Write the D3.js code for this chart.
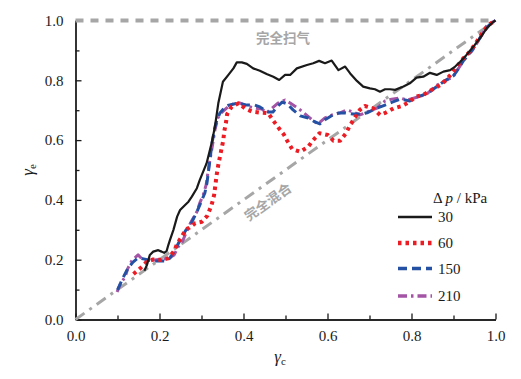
<!DOCTYPE html>
<html>
<head>
<meta charset="utf-8">
<script src="https://cdn.jsdelivr.net/npm/d3@7"></script>
<style>
  body { margin: 0; background: #fff; }
  .axis path, .axis line { stroke: #1a1a1a; stroke-width: 1.3; }
</style>
</head>
<body>
<div id="chart"></div>
<script>
// series: [gamma_c, gamma_e]
var dp30 = [[0.164,0.163],[0.170,0.182],[0.177,0.216],[0.185,0.227],[0.197,0.232],[0.205,0.227],[0.211,0.223],[0.217,0.229],[0.221,0.249],[0.225,0.266],[0.233,0.299],[0.242,0.344],[0.249,0.366],[0.261,0.383],[0.269,0.394],[0.277,0.411],[0.289,0.439],[0.296,0.467],[0.312,0.522],[0.324,0.589],[0.332,0.645],[0.340,0.723],[0.351,0.795],[0.364,0.818],[0.376,0.840],[0.384,0.860],[0.396,0.860],[0.408,0.855],[0.423,0.840],[0.439,0.832],[0.455,0.821],[0.471,0.812],[0.485,0.801],[0.499,0.818],[0.511,0.818],[0.527,0.840],[0.551,0.851],[0.566,0.857],[0.580,0.865],[0.594,0.857],[0.610,0.866],[0.626,0.834],[0.642,0.846],[0.654,0.823],[0.670,0.798],[0.685,0.779],[0.701,0.773],[0.713,0.770],[0.725,0.762],[0.737,0.770],[0.749,0.770],[0.761,0.768],[0.781,0.779],[0.796,0.790],[0.812,0.809],[0.828,0.812],[0.844,0.825],[0.860,0.818],[0.876,0.829],[0.892,0.834],[0.904,0.846],[0.916,0.862],[0.931,0.885],[0.947,0.912],[0.963,0.941],[0.979,0.974],[0.995,0.996],[1.0,1.0]];
var dp60 = [[0.138,0.152],[0.154,0.171],[0.170,0.193],[0.185,0.201],[0.204,0.199],[0.221,0.205],[0.235,0.229],[0.242,0.253],[0.253,0.277],[0.263,0.302],[0.271,0.307],[0.285,0.322],[0.301,0.327],[0.314,0.347],[0.324,0.383],[0.330,0.416],[0.336,0.483],[0.340,0.517],[0.344,0.545],[0.348,0.573],[0.352,0.600],[0.354,0.628],[0.358,0.656],[0.361,0.687],[0.372,0.712],[0.388,0.723],[0.404,0.706],[0.421,0.695],[0.439,0.692],[0.459,0.690],[0.471,0.665],[0.483,0.642],[0.496,0.619],[0.504,0.598],[0.516,0.570],[0.535,0.561],[0.554,0.578],[0.566,0.600],[0.581,0.623],[0.601,0.617],[0.614,0.598],[0.630,0.598],[0.644,0.623],[0.652,0.645],[0.664,0.673],[0.677,0.701],[0.689,0.714],[0.709,0.706],[0.725,0.684],[0.739,0.692],[0.757,0.706],[0.777,0.714],[0.795,0.728],[0.810,0.745],[0.828,0.751],[0.848,0.768],[0.868,0.784],[0.880,0.798],[0.896,0.823],[0.908,0.846],[0.920,0.868],[0.935,0.890],[0.947,0.912],[0.959,0.937],[0.971,0.963],[0.983,0.985],[1.0,1.0]];
var dp150 = [[0.100,0.099],[0.113,0.139],[0.125,0.172],[0.137,0.192],[0.149,0.206],[0.165,0.202],[0.182,0.196],[0.201,0.196],[0.215,0.196],[0.225,0.206],[0.237,0.232],[0.249,0.266],[0.263,0.299],[0.277,0.326],[0.289,0.360],[0.299,0.393],[0.308,0.423],[0.313,0.457],[0.320,0.533],[0.325,0.590],[0.332,0.644],[0.337,0.668],[0.344,0.691],[0.354,0.707],[0.365,0.717],[0.387,0.724],[0.408,0.717],[0.427,0.717],[0.439,0.711],[0.458,0.694],[0.470,0.694],[0.480,0.711],[0.492,0.727],[0.504,0.721],[0.518,0.701],[0.535,0.681],[0.554,0.674],[0.570,0.661],[0.582,0.654],[0.594,0.668],[0.613,0.684],[0.627,0.691],[0.642,0.691],[0.661,0.687],[0.677,0.687],[0.694,0.691],[0.713,0.704],[0.737,0.717],[0.754,0.727],[0.773,0.737],[0.796,0.731],[0.813,0.744],[0.839,0.757],[0.858,0.777],[0.882,0.801],[0.899,0.814],[0.908,0.831],[0.923,0.864],[0.939,0.891],[0.954,0.921],[0.970,0.958],[0.985,0.985],[1.0,1.0]];
var dp210 = [[0.099,0.092],[0.108,0.122],[0.118,0.142],[0.125,0.172],[0.135,0.199],[0.149,0.216],[0.161,0.199],[0.170,0.199],[0.189,0.199],[0.206,0.202],[0.218,0.202],[0.235,0.216],[0.244,0.242],[0.254,0.259],[0.263,0.289],[0.275,0.326],[0.289,0.360],[0.296,0.390],[0.304,0.416],[0.311,0.450],[0.318,0.517],[0.325,0.573],[0.332,0.634],[0.339,0.674],[0.349,0.694],[0.363,0.711],[0.375,0.721],[0.392,0.724],[0.408,0.714],[0.427,0.707],[0.444,0.704],[0.455,0.691],[0.468,0.707],[0.482,0.724],[0.499,0.734],[0.511,0.724],[0.535,0.701],[0.558,0.674],[0.577,0.654],[0.594,0.674],[0.611,0.684],[0.630,0.691],[0.646,0.701],[0.661,0.694],[0.677,0.684],[0.694,0.694],[0.718,0.707],[0.737,0.731],[0.753,0.737],[0.773,0.741],[0.789,0.734],[0.815,0.744],[0.836,0.754],[0.861,0.784],[0.884,0.801],[0.899,0.811],[0.908,0.831],[0.932,0.885],[0.944,0.898],[0.956,0.925],[0.970,0.958],[0.980,0.985],[1.0,1.0]];

var seriesNames = ["30", "60", "150", "210"];
var majorTicks = [0.0, 0.2, 0.4, 0.6, 0.8, 1.0];
var minorTicks = [0.1, 0.3, 0.5, 0.7, 0.9];
var refLabels = ["完全扫气", "完全混合"];

var serif = "'Liberation Serif', 'Times New Roman', serif";
var cjk = "'Noto Sans CJK SC', sans-serif";

var width = 521, height = 379;
var svg = d3.select("#chart").append("svg")
  .attr("width", width).attr("height", height);

var x = d3.scaleLinear().domain([0, 1]).range([75.5, 495.5]);
var y = d3.scaleLinear().domain([0, 1]).range([319.5, 20.5]);

// axes (ticks point inward)
var fmt = d3.format(".1f");
function styleAxis(g) {
  g.attr("font-family", null);
  g.selectAll("text")
    .style("font-family", serif)
    .style("font-size", "15px")
    .attr("fill", "#1a1a1a");
}
svg.append("g").attr("class", "axis")
  .attr("transform", "translate(0," + y(0) + ")")
  .call(d3.axisBottom(x).tickValues(majorTicks).tickFormat(fmt).tickSize(-6).tickSizeOuter(0).tickPadding(11))
  .call(styleAxis);
svg.append("g").attr("class", "axis")
  .attr("transform", "translate(0," + y(0) + ")")
  .call(d3.axisBottom(x).tickValues(minorTicks).tickFormat("").tickSize(-4).tickSizeOuter(0));
svg.append("g").attr("class", "axis")
  .attr("transform", "translate(" + x(0) + ",0)")
  .call(d3.axisLeft(y).tickValues(majorTicks).tickFormat(fmt).tickSize(-6).tickSizeOuter(0).tickPadding(12))
  .call(styleAxis);
svg.append("g").attr("class", "axis")
  .attr("transform", "translate(" + x(0) + ",0)")
  .call(d3.axisLeft(y).tickValues(minorTicks).tickFormat("").tickSize(-4).tickSizeOuter(0));

// reference lines
var grey = "#a6a6a6";
svg.append("line")
  .attr("x1", x(0)).attr("x2", x(1)).attr("y1", y(1)).attr("y2", y(1))
  .attr("stroke", grey).attr("stroke-width", 4).attr("stroke-dasharray", "8,7");
svg.append("line")
  .attr("x1", x(0)).attr("x2", x(1)).attr("y1", y(0)).attr("y2", y(1))
  .attr("stroke", grey).attr("stroke-width", 3).attr("stroke-dasharray", "11,6,3,6");

svg.append("text")
  .attr("x", 283).attr("y", 43)
  .attr("text-anchor", "middle")
  .style("font-family", cjk)
  .attr("font-weight", "bold").attr("font-size", 13.5)
  .attr("fill", grey)
  .text(refLabels[0]);

var ang = -Math.atan((y(0) - y(1)) / (x(1) - x(0))) * 180 / Math.PI;
svg.append("text")
  .attr("transform", "translate(268,202) rotate(" + ang + ")")
  .attr("text-anchor", "middle").attr("dy", "0.35em")
  .style("font-family", cjk)
  .attr("font-weight", "bold").attr("font-size", 13.5)
  .attr("fill", grey)
  .text(refLabels[1]);

// data curves
var line = d3.line().x(function(d) { return x(d[0]); }).y(function(d) { return y(d[1]); });
var styles = [
  {data: dp30,  color: "#1a1a1a", w: 2.2, dash: null},
  {data: dp60,  color: "#ec1c24", w: 4,   dash: "3.5,4"},
  {data: dp150, color: "#2451a3", w: 3,   dash: "9,5"},
  {data: dp210, color: "#a354a5", w: 3,   dash: "9,4,2.5,4"}
];
// draw in reverse so the black line sits on top
styles.slice().reverse().forEach(function(s) {
  svg.append("path")
    .datum(s.data)
    .attr("d", line)
    .attr("fill", "none")
    .attr("stroke", s.color)
    .attr("stroke-width", s.w)
    .attr("stroke-dasharray", s.dash)
    .attr("stroke-linejoin", "round");
});

// legend
var legend = svg.append("g");
var title = legend.append("text")
  .attr("x", 433).attr("y", 203)
  .style("font-family", serif)
  .attr("font-size", 15).attr("fill", "#1a1a1a");
title.append("tspan").text("Δ ");
title.append("tspan").attr("font-style", "italic").text("p");
title.append("tspan").text(" / kPa");

var rowY = [217, 243, 268.5, 296];
styles.forEach(function(s, i) {
  legend.append("line")
    .attr("x1", 398).attr("x2", 432)
    .attr("y1", rowY[i]).attr("y2", rowY[i])
    .attr("stroke", s.color).attr("stroke-width", s.w + 0.5)
    .attr("stroke-dasharray", s.dash);
  legend.append("text")
    .attr("x", 438).attr("y", rowY[i]).attr("dy", "0.35em")
    .style("font-family", serif)
    .attr("font-size", 15).attr("fill", "#1a1a1a")
    .text(seriesNames[i]);
});

// axis titles
var yl = svg.append("text")
  .attr("transform", "translate(33,170) rotate(-90)")
  .attr("text-anchor", "middle")
  .style("font-family", serif)
  .attr("font-size", 17).attr("fill", "#1a1a1a");
yl.append("tspan").attr("font-style", "italic").text("γ");
yl.append("tspan").attr("font-size", 11).attr("dy", 3).text("e");

var xl = svg.append("text")
  .attr("x", 280).attr("y", 362)
  .attr("text-anchor", "middle")
  .style("font-family", serif)
  .attr("font-size", 17).attr("fill", "#1a1a1a");
xl.append("tspan").attr("font-style", "italic").text("γ");
xl.append("tspan").attr("font-size", 11).attr("dy", 3).text("c");
</script>
</body>
</html>
